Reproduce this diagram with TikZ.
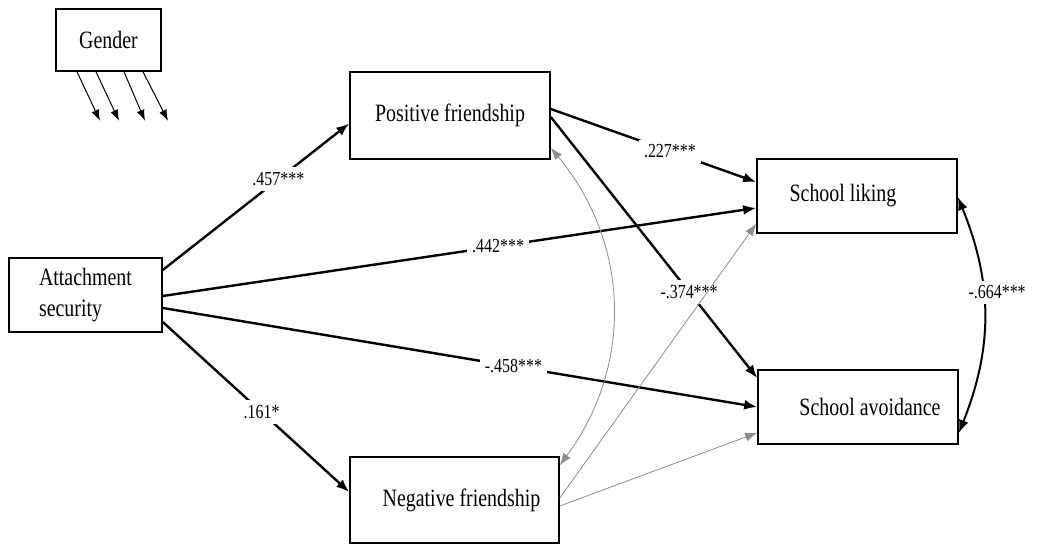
\documentclass[tikz,border=0pt]{standalone}
\usepackage{fontspec}
\setmainfont[FakeStretch=0.8]{Liberation Serif}
\usetikzlibrary{positioning,arrows.meta}
\definecolor{covgray}{RGB}{140,140,140}
\tikzset{
  var/.style={draw, line width=1.6bp, fill=white, inner sep=0pt,
              font=\fontsize{25}{32}\selectfont},
  eff/.style={-{Latex[length=13bp,width=10bp]}, line width=2.4bp},
  effboth/.style={{Latex[length=13bp,width=10bp]}-{Latex[length=13bp,width=10bp]}, line width=2bp},
  weak/.style={-{Latex[length=12bp,width=9bp]}, covgray, line width=0.8bp},
  weakboth/.style={{Latex[length=12bp,width=9bp]}-{Latex[length=12bp,width=9bp]}, covgray, line width=0.8bp},
  coef/.style={fill=white, inner sep=5bp, font=\fontsize{20}{22}\selectfont},
  genarr/.style={-{Latex[length=11bp,width=8bp]}, line width=1bp}
}

\begin{document}
\begin{tikzpicture}[x=1bp,y=-1bp]
  \useasboundingbox (0,0) rectangle (1037,545);
  % variables
  \node[var, minimum width=105bp, minimum height=62bp] (gender) at (108.5,40) {Gender};
  \node[var, minimum width=153bp, minimum height=74bp, align=left] (attach) at (85.5,295) {Attachment\\security};
  \node[var, minimum width=200bp, minimum height=87bp] (posf) at (450,115.5) {Positive friendship};
  \node[var, minimum width=209bp, minimum height=86bp] (negf) at (454.5,500) {\hspace*{14bp}Negative friendship};
  \node[var, minimum width=200bp, minimum height=74bp] (liking) at (857,196) {School liking\hspace*{28bp}};
  \node[var, minimum width=200bp, minimum height=74bp] (avoid) at (858,407) {\hspace*{24bp}School avoidance};
  % gender controls
  \foreach \dx/\ex in {-31.5/23, -12.5/23, 15.5/21, 34.5/25}
    \draw[genarr] ([xshift=\dx bp]gender.south) -- ++(\ex,49);
  % paths
  \draw[eff] ([yshift=25bp]attach.east) -- node[coef, pos=0.62] {.457***} ([yshift=-8bp]posf.west);
  \draw[eff] ([yshift=-1bp]attach.east) -- node[coef, pos=0.565] {.442***} ([yshift=-12bp]liking.west);
  \draw[eff] ([yshift=-13bp]attach.east) -- node[coef, pos=0.59] {-.458***} (avoid.west);
  \draw[eff] ([yshift=-27bp]attach.east) -- node[coef, pos=0.53] {.161*} ([yshift=8bp]negf.west);
  \draw[eff] ([yshift=6.5bp]posf.east) -- node[coef, pos=0.58] {.227***} ([yshift=14bp]liking.west);
  \draw[eff] ([yshift=-1.5bp]posf.east) -- node[coef, pos=0.67] {-.374***} ([yshift=29bp]avoid.west);
  \draw[effboth] ([yshift=-1bp]liking.east) to[bend left=22]
    node[coef, pos=0.4, xshift=14bp] {-.664***} ([yshift=-26bp]avoid.east);
  % non-significant paths
  \draw[weakboth] ([yshift=12bp]posf.south east) to[bend left=38] ([yshift=-9bp]negf.north east);
  \draw[weak] ([yshift=2bp]negf.east) -- ([yshift=10bp]liking.south west);
  \draw[weak] ([yshift=-6bp]negf.east) -- ([yshift=12bp]avoid.south west);
\end{tikzpicture}
\end{document}
